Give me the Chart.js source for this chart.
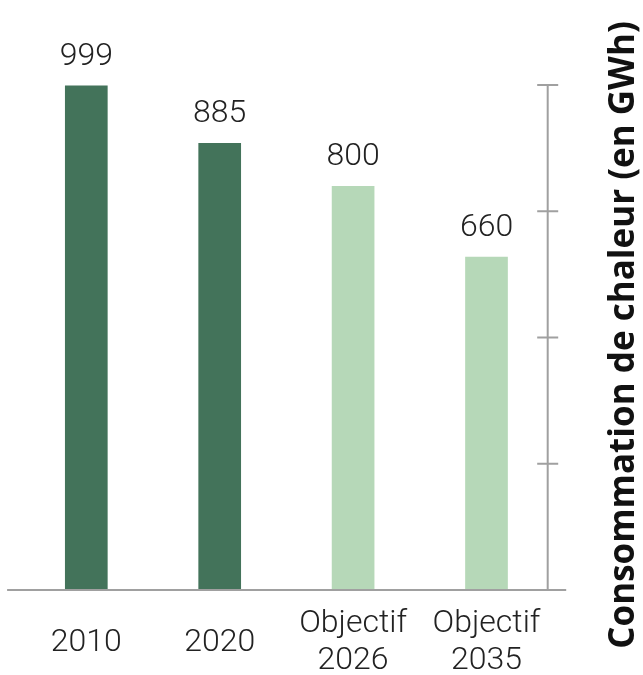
<!DOCTYPE html>
<html>
<head>
<meta charset="utf-8">
<script src="https://cdn.jsdelivr.net/npm/chart.js@4/dist/chart.umd.min.js"></script>
<style>
  html, body { margin: 0; padding: 0; background: #fff; }
  .wrap { width: 643px; height: 675px; position: relative; }
</style>
</head>
<body>
<div class="wrap"><canvas class="heat-chart"></canvas></div>
<script>
// data
const categories = ["2010", "2020", ["Objectif", "2026"], ["Objectif", "2035"]];
const consumption = [999, 885, 800, 660];
const yMax = 1000;
const yStep = 250;
const axisTitle = "Consommation de chaleur (en GWh)";

const barColors = ["#43735a", "#43735a", "#b6d8b8", "#b6d8b8"];
const lineColor = "#a0a0a0";
const textColor = "#222";

// axis line + crossing tick marks on the right, baseline under the bars
const axisLines = {
  id: "axisLines",
  afterDatasetsDraw(chart) {
    const { ctx, chartArea, scales } = chart;
    const y = scales.y;
    const axisX = chartArea.right - 5.5;
    const base = y.getPixelForValue(0);
    ctx.save();
    ctx.strokeStyle = lineColor;
    ctx.lineWidth = 2;
    ctx.beginPath();
    ctx.moveTo(chartArea.left - 12.5, base);
    ctx.lineTo(axisX + 18.5, base);
    ctx.moveTo(axisX, y.getPixelForValue(yMax));
    ctx.lineTo(axisX, base);
    y.ticks.forEach((t) => {
      if (t.value === 0) return;
      const py = y.getPixelForValue(t.value);
      ctx.moveTo(axisX - 10.5, py);
      ctx.lineTo(axisX + 10.5, py);
    });
    ctx.stroke();

    // value labels over each bar
    const meta = chart.getDatasetMeta(0);
    ctx.fillStyle = textColor;
    ctx.font = "300 32px Roboto, 'Liberation Sans', sans-serif";
    ctx.textAlign = "center";
    ctx.textBaseline = "alphabetic";
    meta.data.forEach((bar, i) => {
      ctx.fillText(String(consumption[i]), bar.x, bar.y - 21);
    });

    // rotated axis title
    ctx.font = "bold 35px 'Open Sans', 'Noto Sans', sans-serif";
    ctx.fillStyle = "#111";
    ctx.translate(chartArea.right + 81, 335);
    ctx.rotate(-Math.PI / 2);
    ctx.fillText(axisTitle, 0, 0);
    ctx.restore();
  },
};

const ctx = document.querySelector(".heat-chart").getContext("2d");

new Chart(ctx, {
  type: "bar",
  data: {
    labels: categories,
    datasets: [
      {
        label: axisTitle,
        data: consumption,
        backgroundColor: barColors,
        borderWidth: 0,
        categoryPercentage: 1,
        barPercentage: 0.32,
      },
    ],
  },
  options: {
    maintainAspectRatio: false,
    responsive: true,
    animation: false,
    layout: {
      padding: { top: 85, left: 19.6, right: 89.8, bottom: -57 },
    },
    plugins: {
      legend: { display: false },
      tooltip: { enabled: false },
    },
    scales: {
      x: {
        grid: { display: false, drawTicks: false },
        border: { display: false },
        ticks: {
          color: textColor,
          padding: 34,
          crossAlign: "center",
          maxRotation: 0,
          autoSkip: false,
          font: { family: "Roboto, 'Liberation Sans', sans-serif", size: 32, weight: 300, lineHeight: 1.156 },
        },
      },
      y: {
        display: false,
        min: 0,
        max: yMax,
        ticks: { stepSize: yStep },
      },
    },
  },
  plugins: [axisLines],
});
</script>
</body>
</html>
